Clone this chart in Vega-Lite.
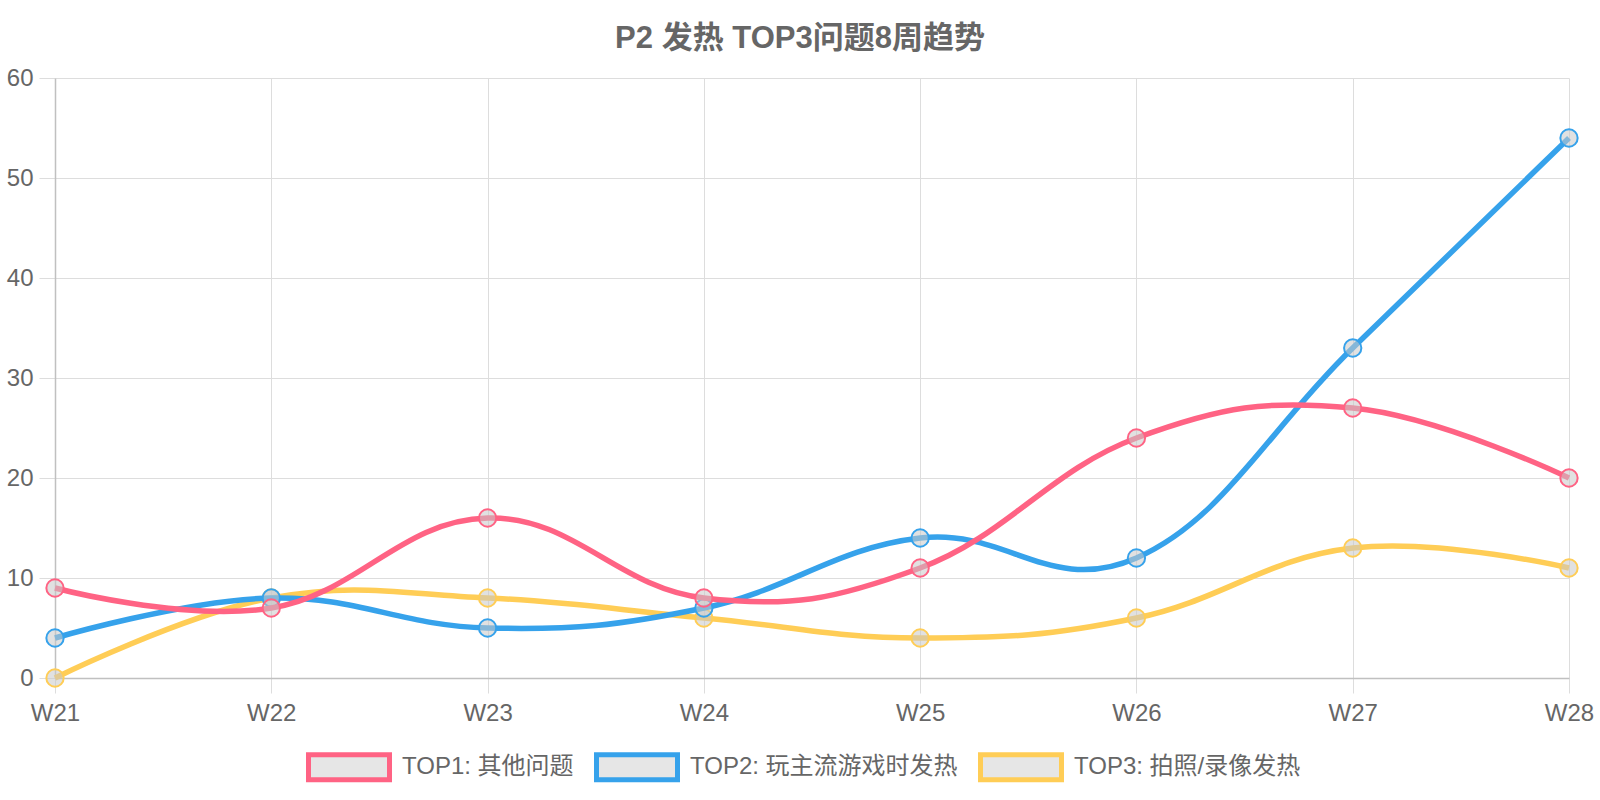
{
  "$schema": "https://vega.github.io/schema/vega-lite/v6.json",
  "autosize": "none",
  "width": 1514,
  "height": 600,
  "padding": {"left": 55, "top": 78, "right": 31, "bottom": 122},
  "title": {
    "text": "P2 发热 TOP3问题8周趋势",
    "fontSize": 31,
    "fontWeight": "bold",
    "color": "#666666",
    "font": "Liberation Sans, Noto Sans CJK SC",
    "anchor": "middle",
    "dx": -12,
    "offset": 11
  },
  "data": {
    "values": [
      {"series": "TOP1: 其他问题", "week": "W21", "value": 9},
      {"series": "TOP1: 其他问题", "week": "W22", "value": 7},
      {"series": "TOP1: 其他问题", "week": "W23", "value": 16},
      {"series": "TOP1: 其他问题", "week": "W24", "value": 8},
      {"series": "TOP1: 其他问题", "week": "W25", "value": 11},
      {"series": "TOP1: 其他问题", "week": "W26", "value": 24},
      {"series": "TOP1: 其他问题", "week": "W27", "value": 27},
      {"series": "TOP1: 其他问题", "week": "W28", "value": 20},
      {"series": "TOP2: 玩主流游戏时发热", "week": "W21", "value": 4},
      {"series": "TOP2: 玩主流游戏时发热", "week": "W22", "value": 8},
      {"series": "TOP2: 玩主流游戏时发热", "week": "W23", "value": 5},
      {"series": "TOP2: 玩主流游戏时发热", "week": "W24", "value": 7},
      {"series": "TOP2: 玩主流游戏时发热", "week": "W25", "value": 14},
      {"series": "TOP2: 玩主流游戏时发热", "week": "W26", "value": 12},
      {"series": "TOP2: 玩主流游戏时发热", "week": "W27", "value": 33},
      {"series": "TOP2: 玩主流游戏时发热", "week": "W28", "value": 54},
      {"series": "TOP3: 拍照/录像发热", "week": "W21", "value": 0},
      {"series": "TOP3: 拍照/录像发热", "week": "W22", "value": 8},
      {"series": "TOP3: 拍照/录像发热", "week": "W23", "value": 8},
      {"series": "TOP3: 拍照/录像发热", "week": "W24", "value": 6},
      {"series": "TOP3: 拍照/录像发热", "week": "W25", "value": 4},
      {"series": "TOP3: 拍照/录像发热", "week": "W26", "value": 6},
      {"series": "TOP3: 拍照/录像发热", "week": "W27", "value": 13},
      {"series": "TOP3: 拍照/录像发热", "week": "W28", "value": 11}
    ]
  },
  "encoding": {
    "x": {
      "field": "week",
      "type": "ordinal",
      "scale": {"type": "point", "padding": 0},
      "axis": {
        "title": null,
        "labelAngle": 0,
        "grid": true,
        "tickSize": 15,
        "labelPadding": 8
      }
    },
    "y": {
      "field": "value",
      "type": "quantitative",
      "scale": {"domain": [0, 60], "nice": false},
      "axis": {
        "title": null,
        "values": [0, 10, 20, 30, 40, 50, 60],
        "tickSize": 16,
        "labelPadding": 6
      }
    },
    "stroke": {
      "field": "series",
      "type": "nominal",
      "scale": {
        "domain": ["TOP1: 其他问题", "TOP2: 玩主流游戏时发热", "TOP3: 拍照/录像发热"],
        "range": ["#ff6384", "#36a2eb", "#ffcd56"]
      },
      "legend": {
        "title": null,
        "orient": "none",
        "direction": "horizontal",
        "legendX": 251,
        "legendY": 646,
        "symbolType": "M-1,-0.309H1V0.309H-1Z",
        "symbolSize": 6561,
        "symbolStrokeWidth": 5,
        "symbolFillColor": "#e6e6e6",
        "labelFontSize": 24,
        "labelColor": "#666666",
        "labelOffset": 10,
        "labelLimit": 0,
        "columnPadding": 12,
        "encode": {
          "symbols": {
            "update": {
              "fill": {"value": "#e6e6e6"},
              "fillOpacity": {"value": 1},
              "opacity": {"value": 1}
            }
          }
        }
      }
    }
  },
  "layer": [
    {
      "transform": [{"filter": "datum.series === 'TOP3: 拍照/录像发热'"}],
      "layer": [
        {"mark": {"type": "line", "interpolate": "cardinal", "tension": -0.2, "strokeWidth": 5.5}},
        {"mark": {"type": "point", "shape": "circle", "filled": true, "fill": "#c8c8c8", "fillOpacity": 0.55, "strokeWidth": 2, "size": 300, "opacity": 1}}
      ]
    },
    {
      "transform": [{"filter": "datum.series === 'TOP2: 玩主流游戏时发热'"}],
      "layer": [
        {"mark": {"type": "line", "interpolate": "cardinal", "tension": -0.2, "strokeWidth": 5.5}},
        {"mark": {"type": "point", "shape": "circle", "filled": true, "fill": "#c8c8c8", "fillOpacity": 0.55, "strokeWidth": 2, "size": 300, "opacity": 1}}
      ]
    },
    {
      "transform": [{"filter": "datum.series === 'TOP1: 其他问题'"}],
      "layer": [
        {"mark": {"type": "line", "interpolate": "cardinal", "tension": -0.2, "strokeWidth": 5.5}},
        {"mark": {"type": "point", "shape": "circle", "filled": true, "fill": "#c8c8c8", "fillOpacity": 0.55, "strokeWidth": 2, "size": 300, "opacity": 1}}
      ]
    }
  ],
  "config": {
    "font": "Liberation Sans, Noto Sans CJK SC",
    "view": {"stroke": null},
    "axis": {
      "labelFontSize": 24,
      "labelColor": "#666666",
      "labelFont": "Liberation Sans, Noto Sans CJK SC",
      "gridColor": "#dddddd",
      "tickColor": "#dddddd",
      "domainColor": "#c0c0c0",
      "domainWidth": 1.5
    },
    "legend": {
      "labelFont": "Liberation Sans, Noto Sans CJK SC"
    }
  }
}
